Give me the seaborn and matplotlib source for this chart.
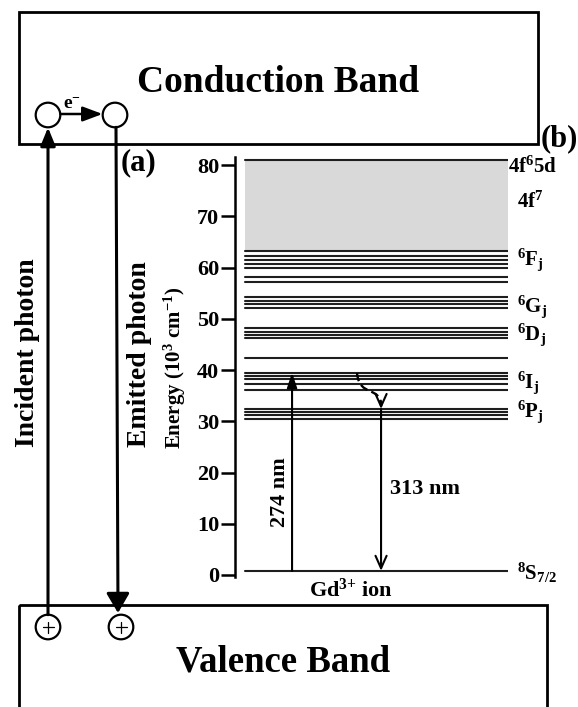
import numpy as np
import pandas as pd
import matplotlib
matplotlib.use("Agg")
import matplotlib.pyplot as plt
import matplotlib.transforms as mtransforms
from matplotlib.patches import Rectangle, Circle, PathPatch
from matplotlib.path import Path
import seaborn as sns

# ---------------- data (energies in 10^3 cm^-1) ----------------
level_top = [81.0]                                   # 4f6 5d edge
levels_F = [63.3, 62.3, 61.5, 60.7, 59.9, 58.1, 57.1]
levels_G = [54.3, 53.5, 52.9, 52.2]
levels_D = [48.3, 47.5, 46.8, 46.3]
levels_single = [42.3]
levels_I = [39.5, 38.8, 38.2, 37.2, 36.2]
levels_P = [32.4, 31.9, 31.2, 30.4]
level_ground = [0.8]
band_4f7 = [63.3, 81.0]

term_labels = ["4f$^6$5d", "4f$^7$", "$^6$F$_j$", "$^6$G$_j$", "$^6$D$_j$",
               "$^6$I$_j$", "$^6$P$_j$", "$^8$S$_{7/2}$"]
term_label_E = [79.8, 73.0, 61.9, 52.7, 47.2, 38.0, 32.2, 0.4]

yticks = [0, 10, 20, 30, 40, 50, 60, 70, 80]
ytick_labels = ["0", "10", "20", "30", "40", "50", "60", "70", "80"]

excitation_E = [0.8, 39.5]      # 274 nm
emission_E = [32.4, 0.8]        # 313 nm
relax_E = [39.4, 32.4]          # non-radiative relaxation
excitation_label = "274 nm"
emission_label = "313 nm"

# ---------------- style ----------------
sns.set_theme(style="white")
plt.rcParams["font.family"] = ["Liberation Serif", "DejaVu Serif"]
plt.rcParams["font.weight"] = "bold"
plt.rcParams["axes.labelweight"] = "bold"
plt.rcParams["text.color"] = "black"
plt.rcParams["axes.labelcolor"] = "black"
plt.rcParams["xtick.color"] = "black"
plt.rcParams["ytick.color"] = "black"
plt.rcParams["mathtext.fontset"] = "custom"
plt.rcParams["mathtext.rm"] = "Liberation Serif:bold"
plt.rcParams["mathtext.it"] = "Liberation Serif:bold"
plt.rcParams["mathtext.bf"] = "Liberation Serif:bold"
plt.rcParams["mathtext.default"] = "rm"

W, H = 578, 707
fig = plt.figure(figsize=(W / 100, H / 100), dpi=100)
fig.patch.set_facecolor("white")

# overlay axes in pixel coordinates for the band schematic
ax0 = fig.add_axes([0, 0, 1, 1])
ax0.set_xlim(0, W)
ax0.set_ylim(H, 0)
ax0.axis("off")
ax0.patch.set_alpha(0)

# conduction and valence band boxes
ax0.add_patch(Rectangle((19, 12), 519, 132, fill=False, lw=2.0, ec="black"))
ax0.add_patch(Rectangle((19, 605), 528, 140, fill=False, lw=2.0, ec="black"))
ax0.text(278.5, 92, "Conduction Band", ha="center", va="baseline", fontsize=27,
         fontweight="bold")
ax0.text(283.5, 672, "Valence Band", ha="center", va="baseline", fontsize=26.5,
         fontweight="bold")

# electron / hole circles
for cx, cy in [(48, 115), (115, 115)]:
    ax0.add_patch(Circle((cx, cy), 12.3, fill=True, fc="white", ec="black", lw=1.6, zorder=3))
for cx, cy in [(48, 627), (121, 627)]:
    ax0.add_patch(Circle((cx, cy), 12.3, fill=True, fc="white", ec="black", lw=1.6, zorder=3))
    ax0.plot([cx - 5.5, cx + 5.5], [cy, cy], color="black", lw=0.9, zorder=4)
    ax0.plot([cx, cx], [cy - 5.5, cy + 5.5], color="black", lw=0.9, zorder=4)

# electron transfer arrow
ax0.annotate("", xy=(102.5, 114), xytext=(60.5, 114),
             arrowprops=dict(arrowstyle="-|>,head_length=1.2,head_width=0.45",
                             lw=1.8, color="black", shrinkA=0, shrinkB=0,
                             mutation_scale=10))
ax0.text(63, 104, "e$^{-}$", ha="left", va="center", fontsize=14)

# incident / emitted photon arrows
ax0.annotate("", xy=(48, 127.5), xytext=(48, 614.7),
             arrowprops=dict(arrowstyle="-|>,head_length=1.1,head_width=0.45",
                             lw=2.2, color="black", shrinkA=0, shrinkB=0,
                             mutation_scale=10))
ax0.annotate("", xy=(118, 613), xytext=(116, 127.3),
             arrowprops=dict(arrowstyle="-|>,head_length=1.2,head_width=0.7",
                             lw=2.2, color="black", shrinkA=0, shrinkB=0,
                             mutation_scale=10))
ax0.text(28, 353, "Incident photon", rotation=90, ha="center", va="center",
         fontsize=20)
ax0.text(139, 354, "Emitted photon", rotation=90, ha="center", va="center",
         fontsize=20)
ax0.text(139, 163, "(a)", ha="center", va="center", fontsize=22)
ax0.text(559, 139, "(b)", ha="center", va="center", fontsize=22)

# ---------------- Gd3+ energy level diagram ----------------
ax = fig.add_axes([235 / W, (H - 577) / H, 273 / W, 420 / H])
ax.patch.set_alpha(0)
x0, x1 = 0.037, 1.0

all_levels = (level_top + levels_F + levels_G + levels_D + levels_single
              + levels_I + levels_P + level_ground)
df = pd.DataFrame({
    "id": np.repeat(np.arange(len(all_levels)), 2),
    "x": np.tile([x0, x1], len(all_levels)),
    "E": np.repeat(all_levels, 2),
})
ax.fill_between([x0, x1], band_4f7[0], band_4f7[1], color="#d9d9d9", lw=0, zorder=0)
sns.lineplot(data=df, x="x", y="E", units="id", estimator=None, sort=False,
             color="#1e1e1e", linewidth=1.5, legend=False, ax=ax)

ax.set_xlim(0, 1)
ax.set_ylim(-0.4, 81.6)
ax.set_xticks([])
ax.set_yticks(yticks)
ax.set_yticklabels(ytick_labels)
ax.tick_params(axis="y", left=True, direction="out", length=10, width=1.8,
               labelsize=16, pad=1.5, color="black", labelcolor="black")
for s in ["top", "right", "bottom"]:
    ax.spines[s].set_visible(False)
ax.spines["left"].set_linewidth(1.8)
ax.spines["left"].set_color("black")
ax.set_xlabel("")
ax.set_ylabel("Energy (10$^3$ cm$^{-1}$)", fontsize=15, fontweight="bold")
ax.yaxis.set_label_coords(-0.172, 0.4976)

# term labels
lab_trans = mtransforms.offset_copy(ax.get_yaxis_transform(), fig=fig, x=0, y=-7, units="dots")
for i, (lab, e) in enumerate(zip(term_labels, term_label_E)):
    xx = 1.0 if i == 0 else 1.033
    ax.text(xx, e, lab, transform=lab_trans, ha="left", va="baseline", fontsize=15,
            clip_on=False)

ax.text(0.425, -0.031, "Gd$^{3{+}}$ ion", transform=ax.transAxes, ha="center",
        va="center", fontsize=16)

# transitions
x_exc, x_em = 0.209, 0.535
ax.annotate("", xy=(x_exc, excitation_E[1]), xytext=(x_exc, excitation_E[0]),
            arrowprops=dict(arrowstyle="-|>,head_length=0.9,head_width=0.3",
                            lw=1.5, color="black", shrinkA=0, shrinkB=0,
                            mutation_scale=10))
ax.annotate("", xy=(x_em, emission_E[1]), xytext=(x_em, emission_E[0]),
            arrowprops=dict(arrowstyle="->,head_length=0.9,head_width=0.4",
                            lw=1.5, color="black", shrinkA=0, shrinkB=0,
                            mutation_scale=10))
ax.text(x_exc - 0.045, 16.2, excitation_label, rotation=90, ha="center",
        va="center", fontsize=16)
ax.text(x_em + 0.161, 16.8, emission_label, ha="center", va="center", fontsize=16)

# dashed non-radiative relaxation curve
verts = [(0.447, relax_E[0]), (0.455, 34.6), (0.535, 37.0), (0.535, relax_E[1] + 0.6)]
codes = [Path.MOVETO, Path.CURVE4, Path.CURVE4, Path.CURVE4]
ax.add_patch(PathPatch(Path(verts, codes), fill=False, lw=1.7, ls=(0, (3.5, 1.8)),
                       ec="black", zorder=3))
ax.annotate("", xy=(x_em, relax_E[1]), xytext=(x_em, relax_E[1] + 1.5),
            arrowprops=dict(arrowstyle="->,head_length=0.9,head_width=0.4",
                            lw=1.5, color="black", shrinkA=0, shrinkB=0,
                            mutation_scale=10))

fig.savefig("out.png", dpi=100, facecolor="white")
